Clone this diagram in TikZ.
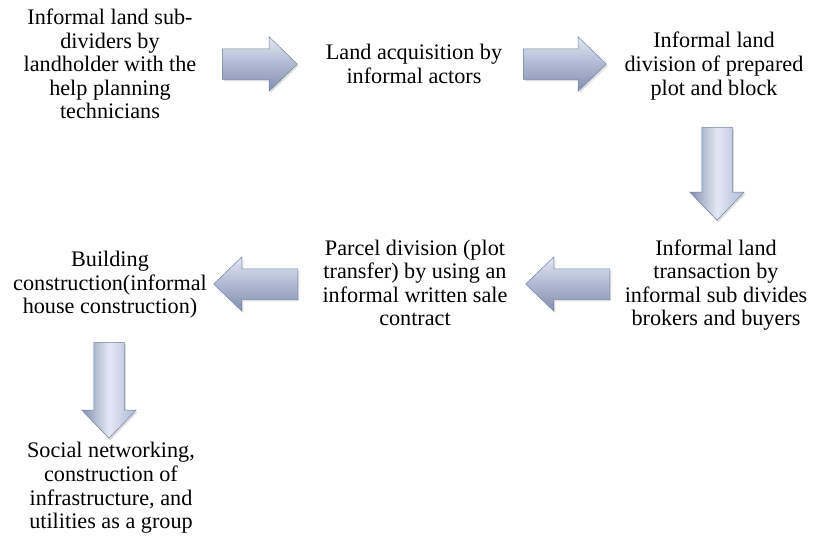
\documentclass[tikz,border=0pt]{standalone}
\usepackage{fontspec}
\setmainfont{Liberation Serif}
\usepackage{tikz}
\usetikzlibrary{shapes.arrows}
\usetikzlibrary{shadows}

\definecolor{arrowlight}{HTML}{E2E8F4}
\definecolor{arrowmid}{HTML}{AEB9D2}
\definecolor{arrowdark}{HTML}{8290B0}
\definecolor{arrowedge}{HTML}{74819F}

\tikzset{
  steptext/.style={align=center, inner sep=0pt, font=\fontsize{22.2}{23.6}\selectfont},
  blockarrow/.style={single arrow, draw=arrowedge, line width=0.5pt, anchor=tail,
    single arrow head extend=12pt, single arrow tip angle=88, minimum height=#1,
    drop shadow={opacity=0.25, shadow xshift=1.5pt, shadow yshift=-2pt}},
  flowright/.style={blockarrow=#1, inner xsep=0pt, inner ysep=15pt,
    top color=arrowlight, bottom color=arrowdark, middle color=arrowmid},
  flowleft/.style={blockarrow=#1, shape border rotate=180, inner xsep=0pt, inner ysep=15pt,
    top color=arrowlight, bottom color=arrowdark, middle color=arrowmid},
  flowdown/.style={blockarrow=#1, shape border rotate=270, inner xsep=15pt, inner ysep=0pt,
    left color=arrowdark, right color=arrowmid, middle color=arrowlight}
}

\begin{document}
\begin{tikzpicture}[x=1pt,y=-1pt]
  \useasboundingbox (0,0) rectangle (814,549);

  % steps
  \node[steptext] (subdiv) at (110,64) {Informal land sub-\\dividers by\\landholder with the\\help planning\\technicians};
  \node[steptext] (acquis) at (414,64) {Land acquisition by\\informal actors};
  \node[steptext] (plotdiv) at (714,66) {Informal land\\division of prepared\\plot and block};
  \node[steptext] (transact) at (716,285) {Informal land\\transaction by\\informal sub divides\\brokers and buyers};
  \node[steptext] (parcel) at (415,283) {Parcel division (plot\\transfer) by using an\\informal written sale\\contract};
  \node[steptext] (building) at (110,285) {Building\\construction(informal\\house construction)};
  \node[steptext] (social) at (111,488) {Social networking,\\construction of\\infrastructure, and\\utilities as a group};

  % block arrows (placed by their tails)
  \node[flowright=75pt] (arr1) at (222,64) {};
  \node[flowright=83pt] (arr2) at (523,64) {};
  \node[flowdown=93pt] (arr3) at (717,127) {};
  \node[flowleft=84pt] (arr4) at (610,284) {};
  \node[flowleft=84pt] (arr5) at (298,284) {};
  \node[flowdown=96pt] (arr6) at (109,342) {};
\end{tikzpicture}
\end{document}
